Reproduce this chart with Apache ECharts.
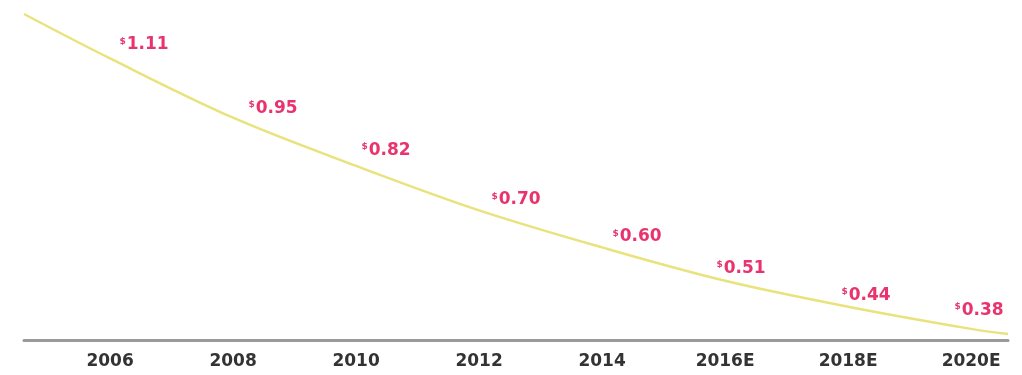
<!DOCTYPE html>
<html>
<head>
<meta charset="utf-8">
<script src="https://cdn.jsdelivr.net/npm/echarts@6/dist/echarts.min.js"></script>
<style>
  html, body { margin: 0; padding: 0; background: #fff; }
  #chart { width: 1022px; height: 375px; }
</style>
</head>
<body>
<div id="chart"></div>
<script>
// values
var years = [2006, 2008, 2010, 2012, 2014, 2016, 2018, 2020];
var yearLabels = ['2006', '2008', '2010', '2012', '2014', '2016E', '2018E', '2020E'];
var prices = [1.11, 0.95, 0.82, 0.70, 0.60, 0.51, 0.44, 0.38];
// where the drawn curve starts and ends (beyond the labelled years)
var lineStart = [2004.6, 1.23];
var lineEnd = [2020.6, 0.366];

// label nudges so they sit like in the original
var labelShift = [[34, -5], [40, -1], [30, -7], [37, -2], [35, -2], [16, -4], [18, -3], [8, -10]];

var chart = echarts.init(document.getElementById('chart'));

var lineData = [{ value: lineStart, label: { show: false } }];
years.forEach(function (y, i) {
    lineData.push({
        value: [y, prices[i]],
        label: { offset: labelShift[i] }
    });
});
lineData.push({ value: lineEnd, label: { show: false } });

var option = {
    animation: false,
    grid: { left: 24, right: 14, top: 14, bottom: 35 },
    xAxis: {
        type: 'value',
        min: lineStart[0],
        max: lineEnd[0],
        splitLine: { show: false },
        axisTick: { show: false },
        axisLine: { show: true, lineStyle: { color: '#9a9a9a', width: 3 } },
        axisLabel: {
            customValues: years,
            margin: 13,
            color: '#333',
            fontFamily: 'DejaVu Sans',
            fontWeight: 'bold',
            fontSize: 17,
            formatter: function (v) {
                var i = years.indexOf(v);
                return i >= 0 ? yearLabels[i] : '';
            }
        }
    },
    yAxis: {
        type: 'value',
        min: 0.35,
        max: lineStart[1],
        show: false
    },
    series: [{
        type: 'line',
        smooth: 0.35,
        data: lineData,
        symbol: 'circle',
        symbolSize: 1,
        showSymbol: true,
        itemStyle: { color: 'rgba(0,0,0,0)' },
        lineStyle: { color: '#e8e37c', width: 2.5 },
        label: {
            show: true,
            position: 'top',
            distance: 0,
            formatter: function (p) {
                return '{s|$}{v|' + p.value[1].toFixed(2) + '}';
            },
            rich: {
                s: { color: '#e8336e', fontSize: 9, fontFamily: 'DejaVu Sans', fontWeight: 'bold', verticalAlign: 'top', lineHeight: 16, padding: [0, 1, 6, 0] },
                v: { color: '#e8336e', fontSize: 17, fontFamily: 'DejaVu Sans', fontWeight: 'bold', lineHeight: 16 }
            }
        }
    }]
};

chart.setOption(option);
</script>
</body>
</html>
